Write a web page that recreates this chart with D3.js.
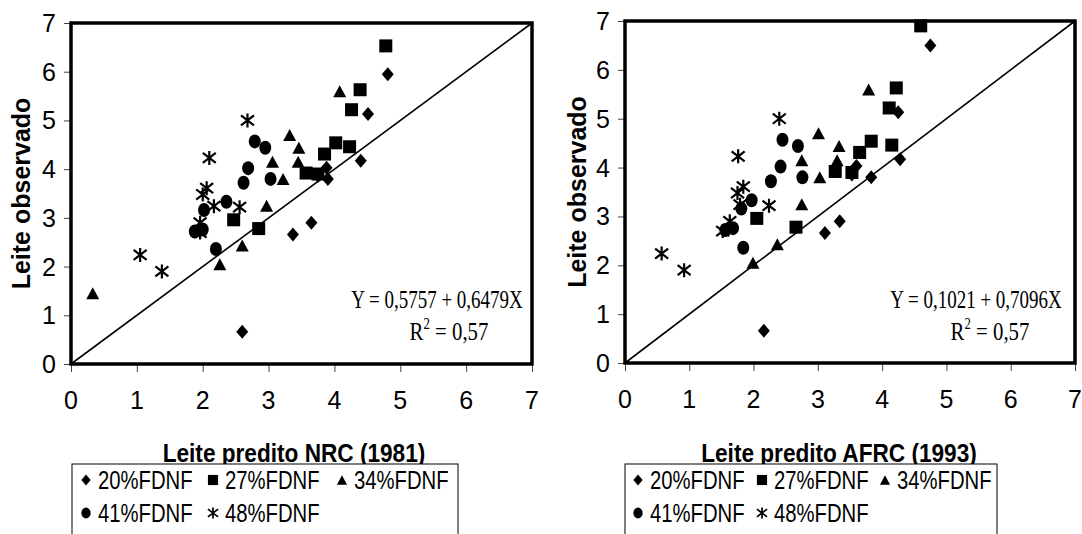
<!DOCTYPE html>
<html lang="en">
<head>
	<meta charset="UTF-8">
	<script type="text/javascript" src="https://cdn.jsdelivr.net/npm/d3@7"></script>
	<title>Leite observado x predito</title>
	<style>
		body { margin: 0; background: #fff; }
		svg { display: block; }
	</style>
</head>
<body>

<svg id="chart" width="1082" height="534"></svg>

<script type="text/javascript">
	// axis ticks (same for both panels)
	var ticks = [0, 1, 2, 3, 4, 5, 6, 7]

	// legend entries
	var seriesNames = ["20%FDNF", "27%FDNF", "34%FDNF", "41%FDNF", "48%FDNF"]
	var seriesShapes = ["diamond", "square", "triangle", "circle", "asterisk"]

	// observed milk (y) per series, NRC panel
	var obs20 = [5.95, 5.13, 4.17, 4.03, 3.80, 3.86, 2.90, 2.66, 0.66]
	var obs27 = [6.53, 5.63, 5.22, 4.54, 4.46, 4.31, 3.92, 3.90, 2.96, 2.78]
	var obs34 = [5.60, 4.70, 4.44, 4.15, 4.15, 3.80, 3.25, 2.43, 2.05, 1.45]
	var obs41 = [4.57, 4.44, 4.02, 3.72, 3.80, 3.33, 3.16, 2.76, 2.72, 2.36]
	var obs48 = [5.00, 4.23, 3.61, 3.48, 3.22, 3.24, 2.90, 2.70, 2.24, 1.90]

	// the AFRC panel shows its two top points higher
	var obsAfrc20 = [6.50, 5.13, 4.17, 4.03, 3.80, 3.86, 2.90, 2.66, 0.66]
	var obsAfrc27 = [6.90, 5.63, 5.22, 4.54, 4.46, 4.31, 3.92, 3.90, 2.96, 2.78]

	// predicted milk, NRC (1981)
	var nrc20 = [4.81, 4.51, 4.40, 3.88, 3.90, 3.75, 3.65, 3.37, 2.60]
	var nrc27 = [4.78, 4.39, 4.26, 4.02, 4.23, 3.85, 3.57, 3.75, 2.47, 2.85]
	var nrc34 = [4.08, 3.32, 3.46, 3.06, 3.45, 3.22, 2.97, 2.60, 2.26, 0.33]
	var nrc41 = [2.79, 2.95, 2.69, 2.62, 3.03, 2.36, 2.02, 2.00, 1.88, 2.20]
	var nrc48 = [2.68, 2.10, 2.06, 2.00, 2.56, 2.17, 1.96, 1.96, 1.05, 1.38]

	// predicted milk, AFRC (1993)  (null = not visible in the plot)
	var afrc20 = [4.75, 4.25, 4.28, 3.60, 3.83, 3.53, 3.34, 3.11, 2.16]
	var afrc27 = [4.60, 4.22, 4.11, 3.83, 4.15, 3.65, 3.27, 3.53, 2.05, 2.66]
	var afrc34 = [3.79, 3.01, 3.33, 2.75, 3.30, 3.03, 2.75, 2.37, 1.99, null]
	var afrc41 = [2.45, 2.69, 2.42, 2.27, 2.76, 1.97, 1.81, 1.68, 1.56, 1.84]
	var afrc48 = [2.40, 1.76, 1.84, 1.75, 2.24, 1.79, 1.63, 1.52, 0.57, 0.92]

	var sans = "Arial, 'Liberation Sans', sans-serif"
	var serif = "'Times New Roman', 'Liberation Serif', serif"

	var svg = d3.select("#chart")

	svg.append("rect")
		.attr("width", 1082)
		.attr("height", 534)
		.attr("fill", "#fff")

	// the original picture is squeezed sideways, so some text is drawn narrow
	function addText(g, x, y, str, size, sx, anchor, family, weight) {
		return g.append("text")
			.attr("transform", "translate(" + x + "," + y + ")scale(" + sx + ",1)")
			.attr("text-anchor", anchor || "start")
			.style("font-family", family || sans)
			.style("font-weight", weight || "normal")
			.style("font-size", size + "px")
			.text(str)
	}

	// marker path generators, centred at 0,0
	function shapePath(shape, w, h) {
		var a = w / 2, b = h / 2
		if (shape == "diamond")
			return "M0," + (-b) + "L" + a + ",0L0," + b + "L" + (-a) + ",0Z"
		if (shape == "square")
			return "M" + (-a) + "," + (-b) + "h" + w + "v" + h + "h" + (-w) + "Z"
		if (shape == "triangle")
			return "M0," + (-b) + "L" + a + "," + b + "L" + (-a) + "," + b + "Z"
		// asterisk: vertical bar plus an X
		return "M0," + (-b) + "V" + b +
			"M" + (-a) + "," + (-b * 0.72) + "L" + a + "," + (b * 0.72) +
			"M" + (-a) + "," + (b * 0.72) + "L" + a + "," + (-b * 0.72)
	}

	var markerSize = {
		diamond: [12, 14], square: [13, 13], triangle: [13, 12],
		circle: [12, 14], asterisk: [13, 14]
	}

	function addMarker(g, shape, x, y, k) {
		var w = markerSize[shape][0] * k, h = markerSize[shape][1] * k
		if (shape == "circle") {
			g.append("ellipse")
				.attr("cx", x).attr("cy", y)
				.attr("rx", w / 2).attr("ry", h / 2)
				.attr("fill", "#000")
		} else if (shape == "asterisk") {
			g.append("path")
				.attr("transform", "translate(" + x + "," + y + ")")
				.attr("d", shapePath(shape, w, h))
				.attr("fill", "none")
				.attr("stroke", "#000")
				.attr("stroke-width", 2.2 * k)
		} else {
			g.append("path")
				.attr("transform", "translate(" + x + "," + y + ")")
				.attr("d", shapePath(shape, w, h))
				.attr("fill", "#000")
		}
	}

	function drawPanel(cfg) {
		var x = d3.scaleLinear().domain([0, 7]).range([cfg.left, cfg.right])
		var y = d3.scaleLinear().domain([0, 7]).range([cfg.bottom, cfg.top])
		var g = svg.append("g")

		// axes: tick marks from d3, labels drawn below
		var yAxis = g.append("g")
			.attr("transform", "translate(" + cfg.left + ",0)")
			.call(d3.axisLeft(y).tickValues(ticks).tickFormat("").tickSize(7))
		var xAxis = g.append("g")
			.attr("transform", "translate(0," + cfg.bottom + ")")
			.call(d3.axisBottom(x).tickValues(ticks).tickFormat("").tickSize(8))

		;[xAxis, yAxis].forEach(function(a) {
			a.select(".domain").remove()
			a.selectAll(".tick line").attr("stroke", "#444").attr("stroke-width", 1)
		})

		ticks.forEach(function(t) {
			addText(g, cfg.left - 15, y(t) + 9, t, 25, 1, "end")
			addText(g, x(t), cfg.bottom + 45, t, 25, 1, "middle")
		})

		// 1:1 line
		g.append("line")
			.attr("x1", x(0)).attr("y1", y(0))
			.attr("x2", x(7)).attr("y2", y(7))
			.attr("stroke", "#000")
			.attr("stroke-width", 1.6)

		// points
		var pg = g.append("g")
		cfg.series.forEach(function(s, i) {
			s.xs.forEach(function(v, j) {
				if (v == null) return
				addMarker(pg, seriesShapes[i], x(v), y(s.ys[j]), 1)
			})
		})

		// plot frame
		g.append("rect")
			.attr("x", cfg.left).attr("y", cfg.top)
			.attr("width", cfg.right - cfg.left)
			.attr("height", cfg.bottom - cfg.top)
			.attr("fill", "none")
			.attr("stroke", "#000")
			.attr("stroke-width", 3.5)

		// regression text
		addText(g, cfg.eqX, cfg.eqY, cfg.equation, 26, 0.73, "middle", serif)
		var r2 = addText(g, cfg.eqX + cfg.r2Shift, cfg.eqY + 32, "", 26, 0.8, "middle", serif)
		r2.append("tspan").text("R")
		r2.append("tspan").attr("dy", -11).style("font-size", "16px").text("2")
		r2.append("tspan").attr("dy", 11).text(" = 0,57")

		// axis titles
		g.append("text")
			.attr("transform", "translate(" + cfg.yTitleX + "," + (cfg.top + cfg.bottom) / 2 + ")rotate(-90)")
			.attr("text-anchor", "middle")
			.style("font-family", sans)
			.style("font-weight", "bold")
			.style("font-size", "25px")
			.text("Leite observado")

		addText(g, cfg.xTitleX, 462, cfg.xTitle, 26, 0.87, "middle", sans, "bold")

		// legend box
		var lg = g.append("g")
		lg.append("rect")
			.attr("x", cfg.legX).attr("y", 464)
			.attr("width", cfg.legW).attr("height", 80)
			.attr("fill", "#fff")
			.attr("stroke", "#000")
			.attr("stroke-width", 1)

		seriesNames.forEach(function(name, i) {
			var col = i < 3 ? i : i - 3
			var row = i < 3 ? 0 : 1
			var mx = cfg.legX + cfg.legCols[col]
			var my = 480 + row * 33
			addMarker(lg, seriesShapes[i], mx, my, 0.78)
			addText(lg, mx + 12, my + 9, name, 26, 0.78, "start")
		})
	}

	drawPanel({
		left: 71, right: 532, top: 23, bottom: 364,
		series: [
			{ xs: nrc20, ys: obs20 }, { xs: nrc27, ys: obs27 }, { xs: nrc34, ys: obs34 },
			{ xs: nrc41, ys: obs41 }, { xs: nrc48, ys: obs48 }
		],
		equation: "Y = 0,5757 + 0,6479X",
		eqX: 437, eqY: 308, r2Shift: 12,
		yTitleX: 30,
		xTitle: "Leite predito NRC (1981)", xTitleX: 294,
		legX: 72, legW: 386, legCols: [14, 141, 270]
	})

	drawPanel({
		left: 625, right: 1075, top: 21, bottom: 363,
		series: [
			{ xs: afrc20, ys: obsAfrc20 }, { xs: afrc27, ys: obsAfrc27 }, { xs: afrc34, ys: obs34 },
			{ xs: afrc41, ys: obs41 }, { xs: afrc48, ys: obs48 }
		],
		equation: "Y = 0,1021 + 0,7096X",
		eqX: 976, eqY: 308, r2Shift: 14,
		yTitleX: 586,
		xTitle: "Leite predito AFRC (1993)", xTitleX: 839,
		legX: 625, legW: 372, legCols: [13, 137, 260]
	})
</script>

</body>
</html>
